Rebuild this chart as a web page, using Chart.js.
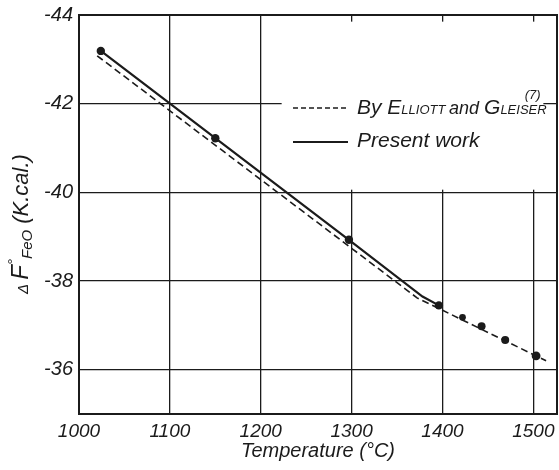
<!DOCTYPE html>
<html>
<head>
<meta charset="utf-8">
<script src="https://cdn.jsdelivr.net/npm/chart.js@4.4.1/dist/chart.umd.min.js"></script>
<style>
  html, body { margin: 0; padding: 0; background: #fff; }
</style>
</head>
<body>
<canvas id="fig" width="559" height="470"></canvas>
<script>
const xTicks = [1000, 1100, 1200, 1300, 1400, 1500];
const yTicks = [-44, -42, -40, -38, -36];

// present work, solid line (1378 is just the bend, no marker there)
const workT = [1024, 1150, 1297, 1378, 1396];
const workF = [-43.19, -41.22, -38.93, -37.65, -37.45];
const workDot = [true, true, true, false, true];

// present work above 1400, sitting on the dashed line
const highT = [1422, 1443, 1469, 1503];
const highF = [-37.18, -36.98, -36.67, -36.31];

// Elliott and Gleiser (7)
const elliottT = [1020, 1372, 1514];
const elliottF = [-43.08, -37.62, -36.2];

const ink = '#1b1b1b';
const fam = '"Liberation Sans", "DejaVu Sans", sans-serif';

function pts(xs, ys) {
  return xs.map((v, i) => ({ x: v, y: ys[i] }));
}

// writes a run of text pieces [text, size, shift] one after another
function drawRun(ctx, parts, x, base) {
  for (const [txt, size, shift] of parts) {
    ctx.font = `italic ${size}px ${fam}`;
    ctx.fillText(txt, x, base + (shift || 0));
    x += ctx.measureText(txt).width;
  }
  return x;
}
function runWidth(ctx, parts) {
  let w = 0;
  for (const [txt, size] of parts) {
    ctx.font = `italic ${size}px ${fam}`;
    w += ctx.measureText(txt).width;
  }
  return w;
}

const paperBits = {
  id: 'paperBits',
  beforeDatasetsDraw(chart) {
    const { ctx, scales: { x, y } } = chart;
    // the key sits on a blank patch, grid lines stop there
    const l = x.getPixelForValue(1223), r = x.getPixelForValue(1511);
    const t = y.getPixelForValue(-43.85), b = y.getPixelForValue(-40.06);
    ctx.save();
    ctx.fillStyle = '#fff';
    ctx.fillRect(l, t, r - l, b - t);
    ctx.restore();
  },
  afterDraw(chart) {
    const { ctx, chartArea: a } = chart;
    ctx.save();
    // frame
    ctx.strokeStyle = ink;
    ctx.lineWidth = 2;
    ctx.strokeRect(a.left, a.top, a.right - a.left, a.bottom - a.top);

    // key
    const lx = a.left + 214, lw = 55, tx = lx + 64;
    ctx.lineWidth = 1.4;
    ctx.setLineDash([5, 3]);
    ctx.beginPath(); ctx.moveTo(lx, 108); ctx.lineTo(lx + lw, 108); ctx.stroke();
    ctx.setLineDash([]);
    ctx.lineWidth = 1.8;
    ctx.beginPath(); ctx.moveTo(lx, 142); ctx.lineTo(lx + lw, 142); ctx.stroke();

    ctx.fillStyle = ink;
    ctx.textBaseline = 'alphabetic';
    ctx.textAlign = 'left';
    const end = drawRun(ctx, [['By ', 21], ['E', 21], ['LLIOTT ', 13], ['and ', 18], ['G', 21], ['LEISER', 13]], tx, 114);
    drawRun(ctx, [['(7)', 13]], end - 22, 99);
    drawRun(ctx, [['Present work', 21]], tx, 147);

    // y title with sub/superscripts
    const parts = [['\u0394 ', 15], ['F', 24], ['\u00b0', 15, -10], ['FeO', 15, 4], [' (K.cal.)', 22]];
    const w = runWidth(ctx, parts);
    ctx.translate(28, 224);
    ctx.rotate(-Math.PI / 2);
    drawRun(ctx, parts, -w / 2, 0);
    ctx.restore();
  }
};

new Chart(document.getElementById('fig'), {
  type: 'line',
  data: {
    datasets: [
      {
        label: 'By Elliott and Gleiser',
        data: pts(elliottT, elliottF),
        borderColor: ink,
        borderWidth: 1.6,
        borderDash: [7, 4],
        pointRadius: 0,
        tension: 0
      },
      {
        label: 'Present work',
        data: pts(workT, workF),
        borderColor: ink,
        borderWidth: 2.2,
        pointRadius: workDot.map(d => d ? 4.2 : 0),
        pointBackgroundColor: ink,
        pointBorderWidth: 0,
        tension: 0
      },
      {
        label: 'Present work above 1400',
        data: pts(highT, highF),
        showLine: false,
        pointRadius: [3.4, 4, 4, 4.4],
        pointBackgroundColor: ink,
        pointBorderWidth: 0
      }
    ]
  },
  options: {
    responsive: false,
    animation: false,
    devicePixelRatio: 1,
    layout: { autoPadding: false, padding: { top: 15, right: 2, left: 0, bottom: 0 } },
    plugins: { legend: { display: false }, tooltip: { enabled: false } },
    scales: {
      x: {
        type: 'linear',
        min: 1000,
        max: 1526,
        afterBuildTicks: s => { s.ticks = xTicks.map(v => ({ value: v })); },
        afterFit: s => { s.height = 56; s.paddingLeft = 0; s.paddingRight = 0; },
        grid: { color: ink, lineWidth: 1.3, drawTicks: false },
        border: { color: ink, width: 2 },
        ticks: {
          color: ink,
          padding: 6,
          maxRotation: 0,
          autoSkip: false,
          callback: v => String(v),
          font: { family: fam, style: 'italic', size: 19 }
        },
        title: {
          display: true,
          text: 'Temperature (\u00b0C)',
          color: ink,
          padding: { top: 0, bottom: 7 },
          font: { family: fam, style: 'italic', size: 20 }
        }
      },
      y: {
        type: 'linear',
        reverse: true,
        min: -44,
        max: -35,
        afterBuildTicks: s => { s.ticks = yTicks.map(v => ({ value: v })); },
        afterFit: s => { s.width = 79; s.paddingTop = 0; s.paddingBottom = 0; },
        grid: { color: ink, lineWidth: 1.3, drawTicks: false },
        border: { color: ink, width: 2 },
        ticks: {
          color: ink,
          padding: 6,
          callback: v => String(v),
          font: { family: fam, style: 'italic', size: 20 }
        }
      }
    }
  },
  plugins: [paperBits]
});
</script>
</body>
</html>
